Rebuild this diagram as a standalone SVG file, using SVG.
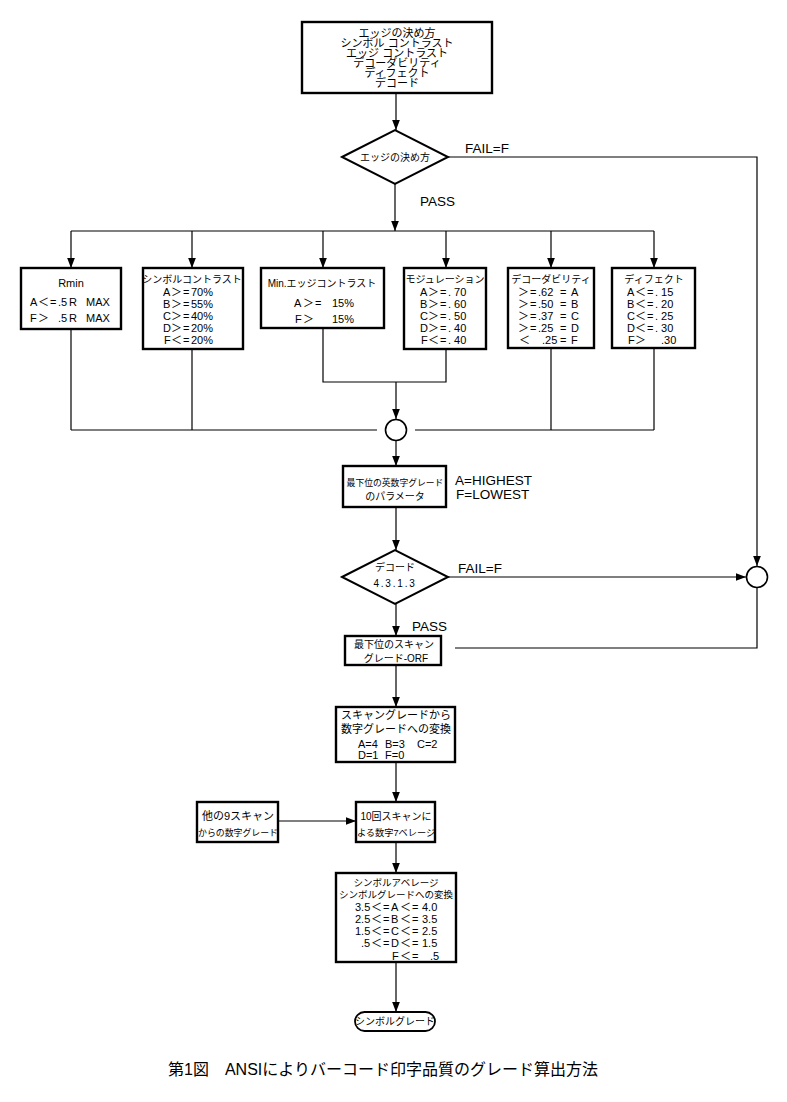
<svg xmlns="http://www.w3.org/2000/svg" width="787" height="1102" viewBox="0 0 787 1102">
<defs>
<style>
.box{fill:#fff;stroke:#000;stroke-width:2.4}
.dia{fill:#fff;stroke:#000;stroke-width:2}
.cir{fill:#fff;stroke:#000;stroke-width:1.6}
.ln{fill:none;stroke:#000;stroke-width:1.2}
text{font-family:"Liberation Sans","Noto Sans CJK JP",sans-serif;fill:#000}
.t{font-size:10px}
.s{font-size:11px}
.m{font-size:9.5px}
.c{text-anchor:middle}
.lb{font-size:13.5px}
.cap{font-size:16px;text-anchor:middle}
</style>
<marker id="ah" markerUnits="userSpaceOnUse" markerWidth="10" markerHeight="13" refX="13" refY="5" viewBox="0 0 13 10" orient="auto">
<path d="M0,0 L13,5 L0,10 z" fill="#000"/>
</marker>
</defs>
<rect width="787" height="1102" fill="#fff"/>

<g id="connectors">
<line class="ln" x1="396" y1="93" x2="396" y2="130" marker-end="url(#ah)"/>
<path class="ln" d="M448,157 H757 V566" marker-end="url(#ah)"/>
<line class="ln" x1="395" y1="184" x2="395" y2="231" marker-end="url(#ah)"/>
<line class="ln" x1="71" y1="231" x2="654" y2="231"/>
<line class="ln" x1="71" y1="231" x2="71" y2="268" marker-end="url(#ah)"/>
<line class="ln" x1="192" y1="231" x2="192" y2="268" marker-end="url(#ah)"/>
<line class="ln" x1="323" y1="231" x2="323" y2="268" marker-end="url(#ah)"/>
<line class="ln" x1="446" y1="231" x2="446" y2="268" marker-end="url(#ah)"/>
<line class="ln" x1="551" y1="231" x2="551" y2="268" marker-end="url(#ah)"/>
<line class="ln" x1="654" y1="231" x2="654" y2="268" marker-end="url(#ah)"/>
<line class="ln" x1="71" y1="329" x2="71" y2="430"/>
<line class="ln" x1="192" y1="349" x2="192" y2="430"/>
<line class="ln" x1="551" y1="348" x2="551" y2="430"/>
<line class="ln" x1="654" y1="348" x2="654" y2="430"/>
<path class="ln" d="M323,328 V382 H446 V349"/>
<line class="ln" x1="396" y1="382" x2="396" y2="419" marker-end="url(#ah)"/>
<line class="ln" x1="71" y1="430" x2="377" y2="430"/>
<line class="ln" x1="415" y1="430" x2="654" y2="430"/>
<line class="ln" x1="396" y1="441" x2="396" y2="466" marker-end="url(#ah)"/>
<line class="ln" x1="396" y1="507" x2="396" y2="550" marker-end="url(#ah)"/>
<line class="ln" x1="448" y1="577" x2="746" y2="577" marker-end="url(#ah)"/>
<path class="ln" d="M757,588 V648 H455"/>
<line class="ln" x1="396" y1="604" x2="396" y2="636" marker-end="url(#ah)"/>
<line class="ln" x1="396" y1="665" x2="396" y2="707" marker-end="url(#ah)"/>
<line class="ln" x1="396" y1="762" x2="396" y2="802" marker-end="url(#ah)"/>
<line class="ln" x1="278" y1="821" x2="356" y2="821" marker-end="url(#ah)"/>
<line class="ln" x1="396" y1="842" x2="396" y2="873" marker-end="url(#ah)"/>
<line class="ln" x1="396" y1="962" x2="396" y2="1012" marker-end="url(#ah)"/>
</g>

<g id="labels">
<text class="lb" x="465" y="153">FAIL=F</text>
<text class="lb" x="420" y="206">PASS</text>
<text class="lb" x="455" y="485">A=HIGHEST</text>
<text class="lb" x="456" y="499">F=LOWEST</text>
<text class="lb" x="458" y="573">FAIL=F</text>
<text class="lb" x="412" y="631">PASS</text>
</g>

<g id="n-top">
<rect class="box" x="302" y="22" width="190" height="71"/>
<text class="s c" x="397" y="37">エッジの決め方</text>
<text class="s c" x="397" y="47">シンボル コントラスト</text>
<text class="s c" x="397" y="57">エッジ コントラスト</text>
<text class="s c" x="397" y="67">デコーダビリティ</text>
<text class="s c" x="397" y="77">ディフェクト</text>
<text class="s c" x="397" y="87">デコード</text>
</g>

<g id="n-edge-dec">
<polygon class="dia" points="342,157 395,130 448,157 395,184"/>
<text class="t c" x="395" y="161">エッジの決め方</text>
</g>

<g id="n-rmin">
<rect class="box" x="21" y="268" width="100" height="61"/>
<text class="s c" x="71" y="287">Rmin</text>
<text class="s" y="306"><tspan x="30">A</tspan><tspan x="38">＜</tspan><tspan x="50">=</tspan><tspan x="58">.5</tspan><tspan x="69">R</tspan><tspan x="86">MAX</tspan></text>
<text class="s" y="322"><tspan x="30">F</tspan><tspan x="38">＞</tspan><tspan x="58">.5</tspan><tspan x="69">R</tspan><tspan x="86">MAX</tspan></text>
</g>

<g id="n-symcon">
<rect class="box" x="143" y="268" width="100" height="81"/>
<text class="t c" x="192" y="283">シンボルコントラスト</text>
<text class="s" y="296"><tspan x="163">A</tspan><tspan x="171">＞</tspan><tspan x="183">=</tspan><tspan x="191">70%</tspan></text>
<text class="s" y="308"><tspan x="163">B</tspan><tspan x="171">＞</tspan><tspan x="183">=</tspan><tspan x="191">55%</tspan></text>
<text class="s" y="320"><tspan x="163">C</tspan><tspan x="171">＞</tspan><tspan x="183">=</tspan><tspan x="191">40%</tspan></text>
<text class="s" y="332"><tspan x="163">D</tspan><tspan x="171">＞</tspan><tspan x="183">=</tspan><tspan x="191">20%</tspan></text>
<text class="s" y="344"><tspan x="164">F</tspan><tspan x="171">＜</tspan><tspan x="183">=</tspan><tspan x="191">20%</tspan></text>
</g>

<g id="n-minedge">
<rect class="box" x="261" y="268" width="123" height="60"/>
<text class="t c" x="322" y="287">Min.エッジコントラスト</text>
<text class="s" y="307"><tspan x="294">A</tspan><tspan x="303">＞</tspan><tspan x="315">=</tspan><tspan x="332">15%</tspan></text>
<text class="s" y="323"><tspan x="295">F</tspan><tspan x="303">＞</tspan><tspan x="332">15%</tspan></text>
</g>

<g id="n-mod">
<rect class="box" x="404" y="268" width="82" height="81"/>
<text class="t c" x="445" y="283">モジュレーション</text>
<text class="s" y="296"><tspan x="420">A</tspan><tspan x="428">＞</tspan><tspan x="440">=</tspan><tspan x="448">. 70</tspan></text>
<text class="s" y="308"><tspan x="420">B</tspan><tspan x="428">＞</tspan><tspan x="440">=</tspan><tspan x="448">. 60</tspan></text>
<text class="s" y="320"><tspan x="420">C</tspan><tspan x="428">＞</tspan><tspan x="440">=</tspan><tspan x="448">. 50</tspan></text>
<text class="s" y="332"><tspan x="420">D</tspan><tspan x="428">＞</tspan><tspan x="440">=</tspan><tspan x="448">. 40</tspan></text>
<text class="s" y="344"><tspan x="421">F</tspan><tspan x="428">＜</tspan><tspan x="440">=</tspan><tspan x="448">. 40</tspan></text>
</g>

<g id="n-decod">
<rect class="box" x="508" y="268" width="86" height="80"/>
<text class="t c" x="551" y="283">デコーダビリティ</text>
<text class="s" y="296"><tspan x="518">＞</tspan><tspan x="530">=</tspan><tspan x="538">.62</tspan><tspan x="560">=</tspan><tspan x="571">A</tspan></text>
<text class="s" y="308"><tspan x="518">＞</tspan><tspan x="530">=</tspan><tspan x="538">.50</tspan><tspan x="560">=</tspan><tspan x="571">B</tspan></text>
<text class="s" y="320"><tspan x="518">＞</tspan><tspan x="530">=</tspan><tspan x="538">.37</tspan><tspan x="560">=</tspan><tspan x="571">C</tspan></text>
<text class="s" y="332"><tspan x="518">＞</tspan><tspan x="530">=</tspan><tspan x="538">.25</tspan><tspan x="560">=</tspan><tspan x="571">D</tspan></text>
<text class="s" y="344"><tspan x="519">＜</tspan><tspan x="542">.25</tspan><tspan x="560">=</tspan><tspan x="571">F</tspan></text>
</g>

<g id="n-defect">
<rect class="box" x="612" y="268" width="83" height="80"/>
<text class="t c" x="654" y="283">ディフェクト</text>
<text class="s" y="296"><tspan x="627">A</tspan><tspan x="635">＜</tspan><tspan x="647">=</tspan><tspan x="655">. 15</tspan></text>
<text class="s" y="308"><tspan x="627">B</tspan><tspan x="635">＜</tspan><tspan x="647">=</tspan><tspan x="655">. 20</tspan></text>
<text class="s" y="320"><tspan x="627">C</tspan><tspan x="635">＜</tspan><tspan x="647">=</tspan><tspan x="655">. 25</tspan></text>
<text class="s" y="332"><tspan x="627">D</tspan><tspan x="635">＜</tspan><tspan x="647">=</tspan><tspan x="655">. 30</tspan></text>
<text class="s" y="344"><tspan x="628">F</tspan><tspan x="635">＞</tspan><tspan x="661">.30</tspan></text>
</g>

<g id="n-merge1">
<circle class="cir" cx="396" cy="430" r="10.5"/>
</g>

<g id="n-lowest">
<rect class="box" x="343" y="466" width="103" height="41"/>
<text class="c" style="font-size:8.8px" x="395" y="486">最下位の英数字グレード</text>
<text class="t c" x="395" y="500">のパラメータ</text>
</g>

<g id="n-decode-dec">
<polygon class="dia" points="342,577 395,550 448,577 395,604"/>
<text class="t c" x="395" y="571">デコード</text>
<text class="t c" x="395" y="587" letter-spacing="1.8">4.3.1.3</text>
</g>

<g id="n-merge2">
<circle class="cir" cx="757" cy="577" r="10.5"/>
</g>

<g id="n-scan-lowest">
<rect class="box" x="345" y="636" width="96" height="29"/>
<text class="t c" x="394" y="648">最下位のスキャン</text>
<text class="t c" x="396" y="662">グレード-ORF</text>
</g>

<g id="n-convert">
<rect class="box" x="336" y="707" width="119" height="55"/>
<text class="s c" x="396" y="719">スキャングレードから</text>
<text class="s c" x="396" y="733">数字グレードへの変換</text>
<text class="s" y="748"><tspan x="358">A=4</tspan><tspan x="385">B=3</tspan><tspan x="417">C=2</tspan></text>
<text class="s" y="759"><tspan x="358">D=1</tspan><tspan x="385">F=0</tspan></text>
</g>

<g id="n-other9">
<rect class="box" x="197" y="802" width="81" height="40"/>
<text class="s c" x="238" y="820">他の9スキャン</text>
<text class="c" style="font-size:8.9px" x="238" y="836">からの数字グレード</text>
</g>

<g id="n-avg10">
<rect class="box" x="356" y="802" width="79" height="40"/>
<text class="t c" x="396" y="820">10回スキャンに</text>
<text class="c" style="font-size:9.2px" x="396" y="836">よる数字7ベレージ</text>
</g>

<g id="n-symavg">
<rect class="box" x="336" y="873" width="120" height="89"/>
<text class="m c" x="396" y="886">シンボルアベレージ</text>
<text class="m c" x="396" y="898">シンボルグレードへの変換</text>
<text class="s" y="911"><tspan x="355">3.5</tspan><tspan x="371">＜</tspan><tspan x="383">=</tspan><tspan x="391">A</tspan><tspan x="400">＜</tspan><tspan x="412">=</tspan><tspan x="422">4.0</tspan></text>
<text class="s" y="923"><tspan x="355">2.5</tspan><tspan x="371">＜</tspan><tspan x="383">=</tspan><tspan x="391">B</tspan><tspan x="400">＜</tspan><tspan x="412">=</tspan><tspan x="422">3.5</tspan></text>
<text class="s" y="935"><tspan x="355">1.5</tspan><tspan x="371">＜</tspan><tspan x="383">=</tspan><tspan x="391">C</tspan><tspan x="400">＜</tspan><tspan x="412">=</tspan><tspan x="422">2.5</tspan></text>
<text class="s" y="947"><tspan x="361">.5</tspan><tspan x="371">＜</tspan><tspan x="383">=</tspan><tspan x="391">D</tspan><tspan x="400">＜</tspan><tspan x="412">=</tspan><tspan x="422">1.5</tspan></text>
<text class="s" y="960"><tspan x="392">F</tspan><tspan x="400">＜</tspan><tspan x="412">=</tspan><tspan x="430">.5</tspan></text>
</g>

<g id="n-symgrade">
<rect class="box" x="355" y="1012" width="80" height="19" rx="9.5" ry="9.5" style="stroke-width:1.8"/>
<text class="t c" x="395" y="1025">シンボルグレード</text>
</g>

<g id="caption">
<text class="cap" x="383" y="1075">第1図　ANSIによりバーコード印字品質のグレード算出方法</text>
</g>
</svg>
